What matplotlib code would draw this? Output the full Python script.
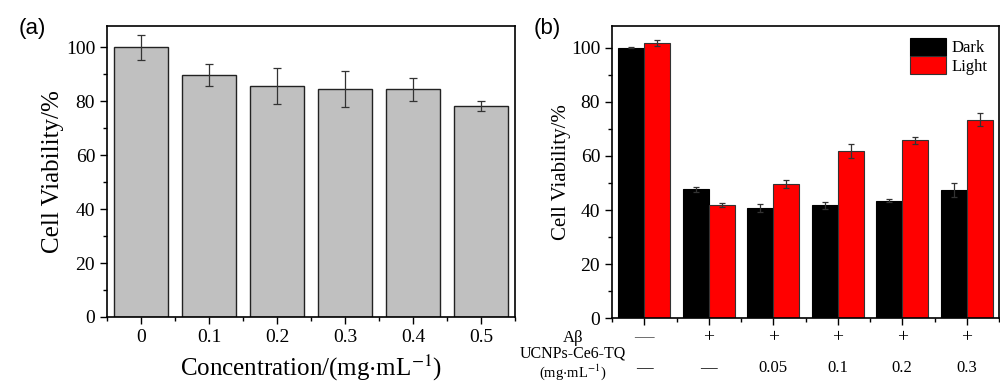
import numpy as np
import matplotlib
matplotlib.use('Agg')
import matplotlib.pyplot as plt
from matplotlib.ticker import MultipleLocator

# ---- data, panel (a) ----
conc_labels = ['0', '0.1', '0.2', '0.3', '0.4', '0.5']
via_a = [100.0, 89.7, 85.7, 84.5, 84.5, 78.3]
err_a = [4.5, 4.2, 6.7, 6.7, 4.3, 2.0]

# ---- data, panel (b) ----
dark = [100.0, 47.7, 40.8, 41.7, 43.4, 47.4]
dark_err = [0.2, 0.9, 1.4, 1.3, 0.6, 2.5]
light = [101.7, 41.9, 49.6, 61.9, 65.7, 73.3]
light_err = [1.1, 0.8, 1.6, 2.5, 1.2, 2.4]
abeta_row = ['\u2014', '+', '+', '+', '+', '+']
ucnp_row = ['\u2014', '\u2014', '0.05', '0.1', '0.2', '0.3']

serif = 'Liberation Serif'
plt.rcParams['font.family'] = serif
plt.rcParams['mathtext.fontset'] = 'stix'

fig = plt.figure(figsize=(10, 3.86), dpi=100)
ax1 = fig.add_axes([0.107, 0.179, 0.408, 0.754])
ax2 = fig.add_axes([0.612, 0.175, 0.387, 0.758])


def style_axis(ax, tick_size):
    ax.set_xlim(-0.5, 5.5)
    ax.set_ylim(0, 108)
    ax.yaxis.set_major_locator(MultipleLocator(20))
    ax.yaxis.set_minor_locator(MultipleLocator(10))
    ax.xaxis.set_minor_locator(MultipleLocator(1, offset=0.5))
    ax.tick_params(which='major', direction='out', length=5, width=1,
                   labelsize=tick_size, top=False, right=False)
    ax.tick_params(which='minor', direction='out', length=3, width=1,
                   top=False, right=False)
    for s in ax.spines.values():
        s.set_linewidth(1.2)


x = np.arange(len(conc_labels))

# panel (a)
ax1.bar(x, via_a, width=0.8, color='#c0c0c0', edgecolor='#222222', linewidth=1,
        yerr=err_a, error_kw=dict(ecolor='#333333', elinewidth=0.9, capsize=3, capthick=0.9))
style_axis(ax1, 14)
ax1.set_xticks(x)
ax1.set_xticklabels(conc_labels)
ax1.set_ylabel('Cell Viability/%', fontsize=18, labelpad=1)
ax1.set_xlabel('Concentration/(mg$\\cdot$mL$^{-1}$)', fontsize=18, labelpad=5)
fig.text(0.032, 0.925, '(a)', fontsize=16, family='Liberation Sans', ha='center', va='center')

# panel (b)
bw = 0.4
ax2.bar(x - bw / 2, dark, width=bw, color='black', edgecolor='black', linewidth=0.8,
        yerr=dark_err, label='Dark',
        error_kw=dict(ecolor='#333333', elinewidth=0.9, capsize=2.5, capthick=0.9))
ax2.bar(x + bw / 2, light, width=bw, color='#ff0000', edgecolor='#333333', linewidth=0.8,
        yerr=light_err, label='Light',
        error_kw=dict(ecolor='#333333', elinewidth=0.9, capsize=2.5, capthick=0.9))
style_axis(ax2, 14)
ax2.set_xticks(x)
ax2.set_xticklabels([])
ax2.set_ylabel('Cell Viability/%', fontsize=15, labelpad=0)
ax2.legend(loc='upper right', frameon=False, fontsize=12, handlelength=2.2,
           handleheight=1.3, handletextpad=0.3, labelspacing=0.0,
           borderaxespad=0.3, bbox_to_anchor=(1.0, 1.0))

tr = ax2.get_xaxis_transform()
for xi, a, u in zip(x, abeta_row, ucnp_row):
    ax2.text(xi, -0.067, a, transform=tr, ha='center', va='center', fontsize=14,
             color='#444444' if a != '+' else 'black')
    ax2.text(xi, -0.17, u, transform=tr, ha='center', va='center', fontsize=12)
fig.text(0.573, 0.124, 'A\u03b2', fontsize=12, ha='center', va='center')
fig.text(0.573, 0.083, 'UCNPs-Ce6-TQ', fontsize=11.5, ha='center', va='center')
fig.text(0.573, 0.036, '(mg$\\cdot$mL$^{-1}$)', fontsize=10.5, ha='center', va='center')
fig.text(0.547, 0.925, '(b)', fontsize=16, family='Liberation Sans', ha='center', va='center')

fig.savefig('out.png', dpi=100)
